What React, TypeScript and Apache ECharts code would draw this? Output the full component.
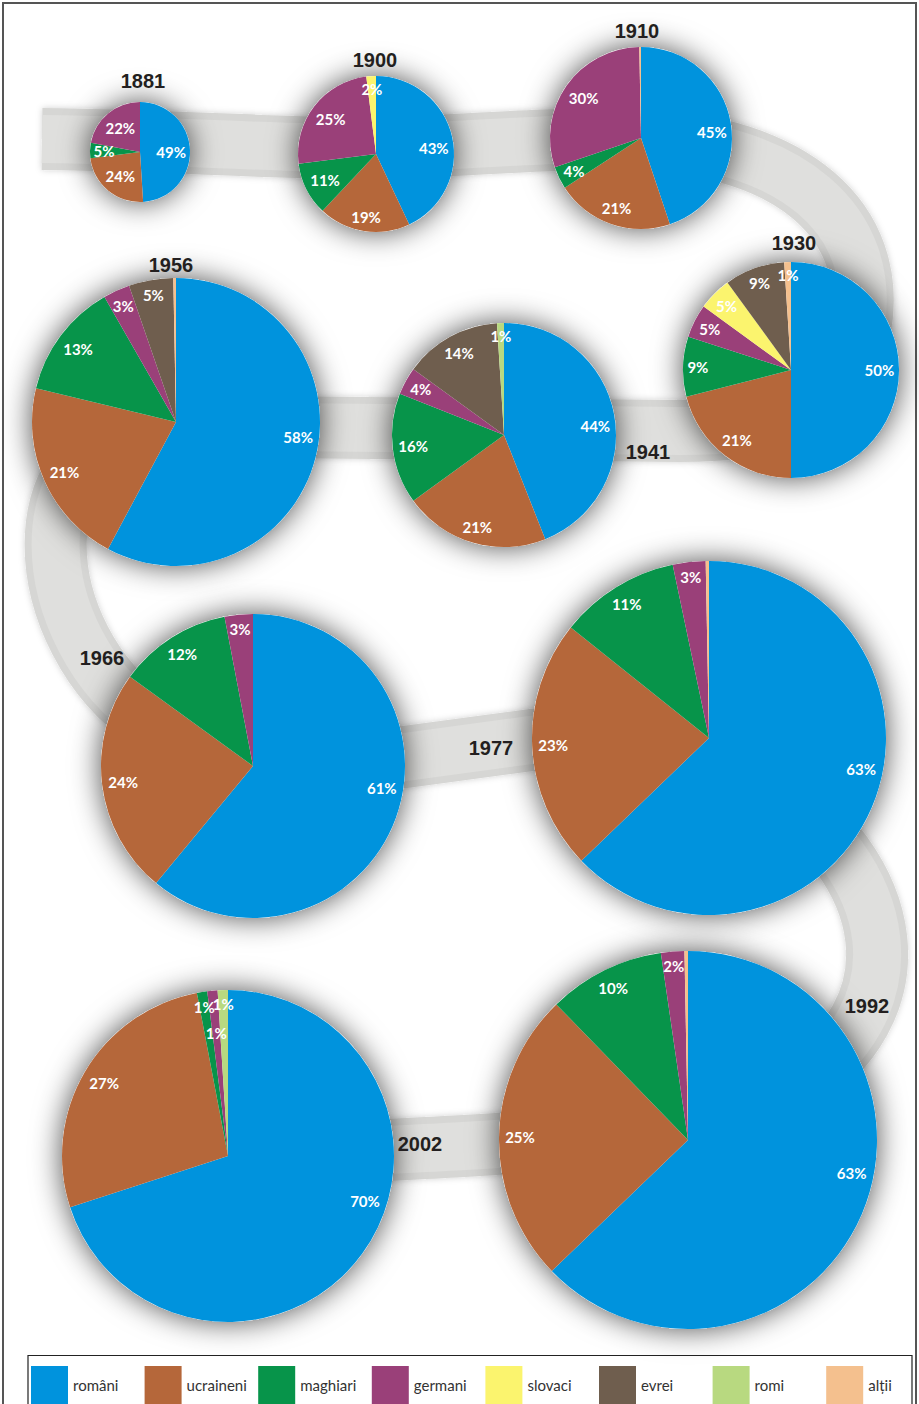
import React, { useEffect, useRef } from 'react';
import * as echarts from 'echarts';

// ---- data ----
const categories = ['români', 'ucraineni', 'maghiari', 'germani', 'slovaci', 'evrei', 'romi', 'alții'];
const years = ['1881', '1900', '1910', '1930', '1941', '1956', '1966', '1977', '1992', '2002'];
const share1881 = [49, 24, 5, 22, 0, 0, 0, 0];
const share1900 = [43, 19, 11, 25, 2, 0, 0, 0];
const share1910 = [45, 21, 4, 30, 0, 0, 0, 0.3];
const share1930 = [50, 21, 9, 5, 5, 9, 0, 1];
const share1941 = [44, 21, 16, 4, 0, 14, 1, 0];
const share1956 = [58, 21, 13, 3, 0, 5, 0, 0.3];
const share1966 = [61, 24, 12, 3, 0, 0, 0, 0];
const share1977 = [63, 23, 11, 3, 0, 0, 0, 0.3];
const share1992 = [63, 25, 10, 2, 0, 0, 0, 0.3];
const share2002 = [70, 27, 1, 1, 0, 0, 1, 0];
const shares = [share1881, share1900, share1910, share1930, share1941, share1956, share1966, share1977, share1992, share2002];

// ---- styles / layout ----
const colors = ['#0093dd', '#b5673a', '#07944a', '#9a4079', '#fbf46e', '#6f5e4e', '#b8d980', '#f4c08e'];
const pieLayout = [
  { cx: 140, cy: 152, r: 50 },
  { cx: 376, cy: 154, r: 78 },
  { cx: 641, cy: 138, r: 91 },
  { cx: 791, cy: 370, r: 108 },
  { cx: 504, cy: 435, r: 112 },
  { cx: 176, cy: 422, r: 144 },
  { cx: 253, cy: 766, r: 152 },
  { cx: 709, cy: 738, r: 177 },
  { cx: 688, cy: 1140, r: 189 },
  { cx: 228, cy: 1156, r: 166 },
];
const yearPos = [[143, 81], [375, 60], [637, 31], [794, 243], [648, 452], [171, 265], [102, 658], [491, 748], [867, 1006], [420, 1144]];

const bandPath =
  'M 42 139 C 200 141 300 150 375 148 C 470 146 560 136 640 140 C 790 145 880 220 860 330 ' +
  'C 840 420 760 431 680 431 L 175 426 C 10 426 30 640 150 720 C 200 750 300 760 405 757 ' +
  'L 531 740 C 600 735 700 740 760 780 C 900 870 920 1010 790 1090 C 700 1140 500 1145 228 1157';

let registered = false;
function ensureShapes() {
  if (registered) return;
  echarts.graphic.registerShape('band', echarts.graphic.extendPath(bandPath, {}) as any);
  registered = true;
}

function labelPositions(vals: number[], lay: { cx: number; cy: number; r: number }) {
  const total = vals.reduce((a, b) => a + b, 0);
  let cum = 0;
  const placed: { x: number; y: number; hw: number }[] = [];
  const out: ({ x: number; y: number } | null)[] = [];
  const hh = 7;
  vals.forEach((v) => {
    const start = (cum / total) * 360;
    cum += v;
    const end = (cum / total) * 360;
    if (v < 1) {
      out.push(null);
      return;
    }
    const span = end - start;
    let mid = (start + end) / 2;
    if (span > 150) mid = mid < 180 ? 90 + (mid - 90) * 0.5 : 270 + (mid - 270) * 0.5;
    const text = `${v}%`;
    const hw = text.length <= 2 ? 9 : 14;
    const rad = (mid * Math.PI) / 180;
    const s = Math.sin(rad);
    const c = Math.cos(rad);
    const ext = Math.abs(s) * hw + Math.abs(c) * hh;
    let d = lay.r - (4 + 0.015 * lay.r) - ext;
    let x = lay.cx + d * s;
    let y = lay.cy - d * c;
    let tries = 0;
    while (placed.some((p) => Math.abs(p.x - x) < p.hw + hw && Math.abs(p.y - y) < 2 * hh) && tries < 5) {
      d -= 14;
      x = lay.cx + d * s;
      y = lay.cy - d * c;
      tries++;
    }
    placed.push({ x, y, hw });
    out.push({ x, y });
  });
  return out;
}

export default function App() {
  const ref = useRef<HTMLDivElement>(null);
  useEffect(() => {
    document.body.style.margin = '0';
    ensureShapes();
    const chart = echarts.init(ref.current!, null, { renderer: 'svg' });

    const series: any[] = [];
    shares.forEach((vals, i) => {
      const lay = pieLayout[i];
      const lp = labelPositions(vals, lay);
      series.push({
        type: 'pie',
        name: 'halo' + years[i],
        center: [lay.cx, lay.cy],
        radius: [0, lay.r],
        silent: true,
        z: 1,
        data: [{ name: 'halo' + years[i], value: 1, itemStyle: { color: '#ffffff', shadowBlur: 30, shadowColor: 'rgba(0,0,0,0.7)' } }],
        label: { show: false },
        labelLine: { show: false },
        emphasis: { disabled: true },
      });
      series.push({
        type: 'pie',
        name: years[i],
        center: [lay.cx, lay.cy],
        radius: [0, lay.r],
        startAngle: 90,
        clockwise: true,
        silent: true,
        avoidLabelOverlap: false,
        z: 3,
        data: categories.map((c, j) => ({ name: c, value: vals[j], itemStyle: { color: colors[j] } })),
        label: {
          show: true,
          position: 'inside',
          formatter: (p: any) => (p.value >= 1 ? `${p.value}%` : ''),
          color: '#ffffff',
          fontFamily: 'Lato',
          fontWeight: 'bold',
          fontSize: 15,
        },
        labelLine: { show: false },
        labelLayout: (params: any) => {
          const pos = lp[params.dataIndex];
          return pos ? { x: pos.x, y: pos.y, align: 'center', verticalAlign: 'middle' } : {};
        },
        emphasis: { disabled: true },
      });
    });

    const legends = categories.map((c, i) => ({
      data: [c],
      left: 31 + i * 113.6,
      top: 1366,
      itemWidth: 37,
      itemHeight: 38,
      icon: 'rect',
      itemGap: 0,
      padding: 0,
      selectedMode: false,
      textStyle: { fontSize: 15, color: '#333', fontFamily: 'Lato' },
    }));

    const graphics: any[] = [
      {
        type: 'band',
        x: 0,
        y: 0,
        z: 0,
        silent: true,
        style: { fill: 'none', stroke: '#d6d6d4', lineWidth: 62, shadowBlur: 6, shadowColor: 'rgba(0,0,0,0.18)' },
      },
      {
        type: 'band',
        x: 0,
        y: 0,
        z: 0,
        silent: true,
        style: { fill: 'none', stroke: '#dfdfdd', lineWidth: 48 },
      },
      {
        type: 'rect',
        z: 0,
        silent: true,
        shape: { x: 3, y: 3, width: 913, height: 1420 },
        style: { fill: 'none', stroke: '#555', lineWidth: 2 },
      },
      {
        type: 'rect',
        z: 0,
        silent: true,
        shape: { x: 28, y: 1355.5, width: 884, height: 60 },
        style: { fill: '#fff', stroke: '#222', lineWidth: 1.2 },
      },
    ];
    years.forEach((y, i) => {
      graphics.push({
        type: 'text',
        x: yearPos[i][0],
        y: yearPos[i][1],
        z: 10,
        silent: true,
        style: {
          text: y,
          font: 'bold 20px "Liberation Sans", Arial, sans-serif',
          fill: '#231f20',
          align: 'center',
          verticalAlign: 'middle',
          textAlign: 'center',
          textVerticalAlign: 'middle',
        },
      });
    });

    chart.setOption({
      animation: false,
      backgroundColor: '#ffffff',
      legend: legends,
      graphic: { elements: graphics },
      series,
    });
    return () => chart.dispose();
  }, []);
  return <div ref={ref} style={{ position: 'absolute', left: 0, top: 0, width: 919, height: 1404 }} />;
}
